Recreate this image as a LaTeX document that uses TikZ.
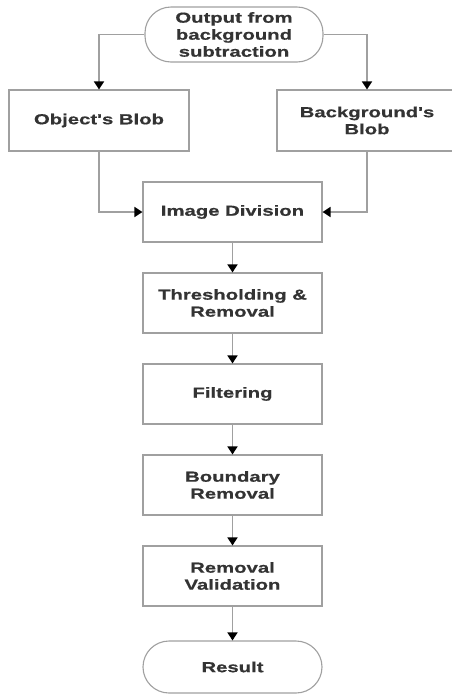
\documentclass[tikz,border=0pt]{standalone}
\usepackage{fontspec}
\newfontfamily\lab[FakeStretch=1.4,FakeBold=0.6]{Liberation Sans Bold}
\usetikzlibrary{arrows.meta}
\definecolor{edge}{HTML}{A0A0A0}
\definecolor{txt}{HTML}{333333}
\begin{document}
\begin{tikzpicture}[x=1pt,y=-1pt,
  box/.style={draw=edge,line width=1.1pt,fill=white,minimum width=179pt,minimum height=60pt,inner sep=0pt,align=center,font=\lab\fontsize{14.5}{17}\selectfont,text=txt},
  term/.style={box,rounded corners=26pt},
  conn/.style={draw=edge,line width=1.6pt,-{Triangle[width=10pt,length=8pt,color=black]}}]
\useasboundingbox[fill=white] (0,0) rectangle (452,694);
\node[term,minimum width=178pt,minimum height=55pt] (src) at (234,34.5) {Output from\\background\\subtraction};
\node[box,minimum width=180pt,minimum height=61pt] (obj) at (99,120.5) {Object's Blob};
\node[box,minimum width=180pt,minimum height=61pt] (bg) at (367,120.5) {Background's\\Blob};
\node[box] (div) at (232.5,212) {Image Division};
\node[box] (thr) at (232.5,303) {Thresholding \&\\Removal};
\node[box] (fil) at (232.5,394) {Filtering};
\node[box] (bnd) at (232.5,485) {Boundary\\Removal};
\node[box] (val) at (232.5,576) {Removal\\Validation};
\node[term,minimum height=52pt] (res) at (232.5,667) {Result};
\draw[conn] (src.west) -| (obj.north);
\draw[conn] (src.east) -| (bg.north);
\draw[conn] (obj.south) |- (div.west);
\draw[conn] (bg.south) |- (div.east);
\draw[conn] (div) -- (thr);
\draw[conn] (thr) -- (fil);
\draw[conn] (fil) -- (bnd);
\draw[conn] (bnd) -- (val);
\draw[conn] (val) -- (res);
\end{tikzpicture}
\end{document}
